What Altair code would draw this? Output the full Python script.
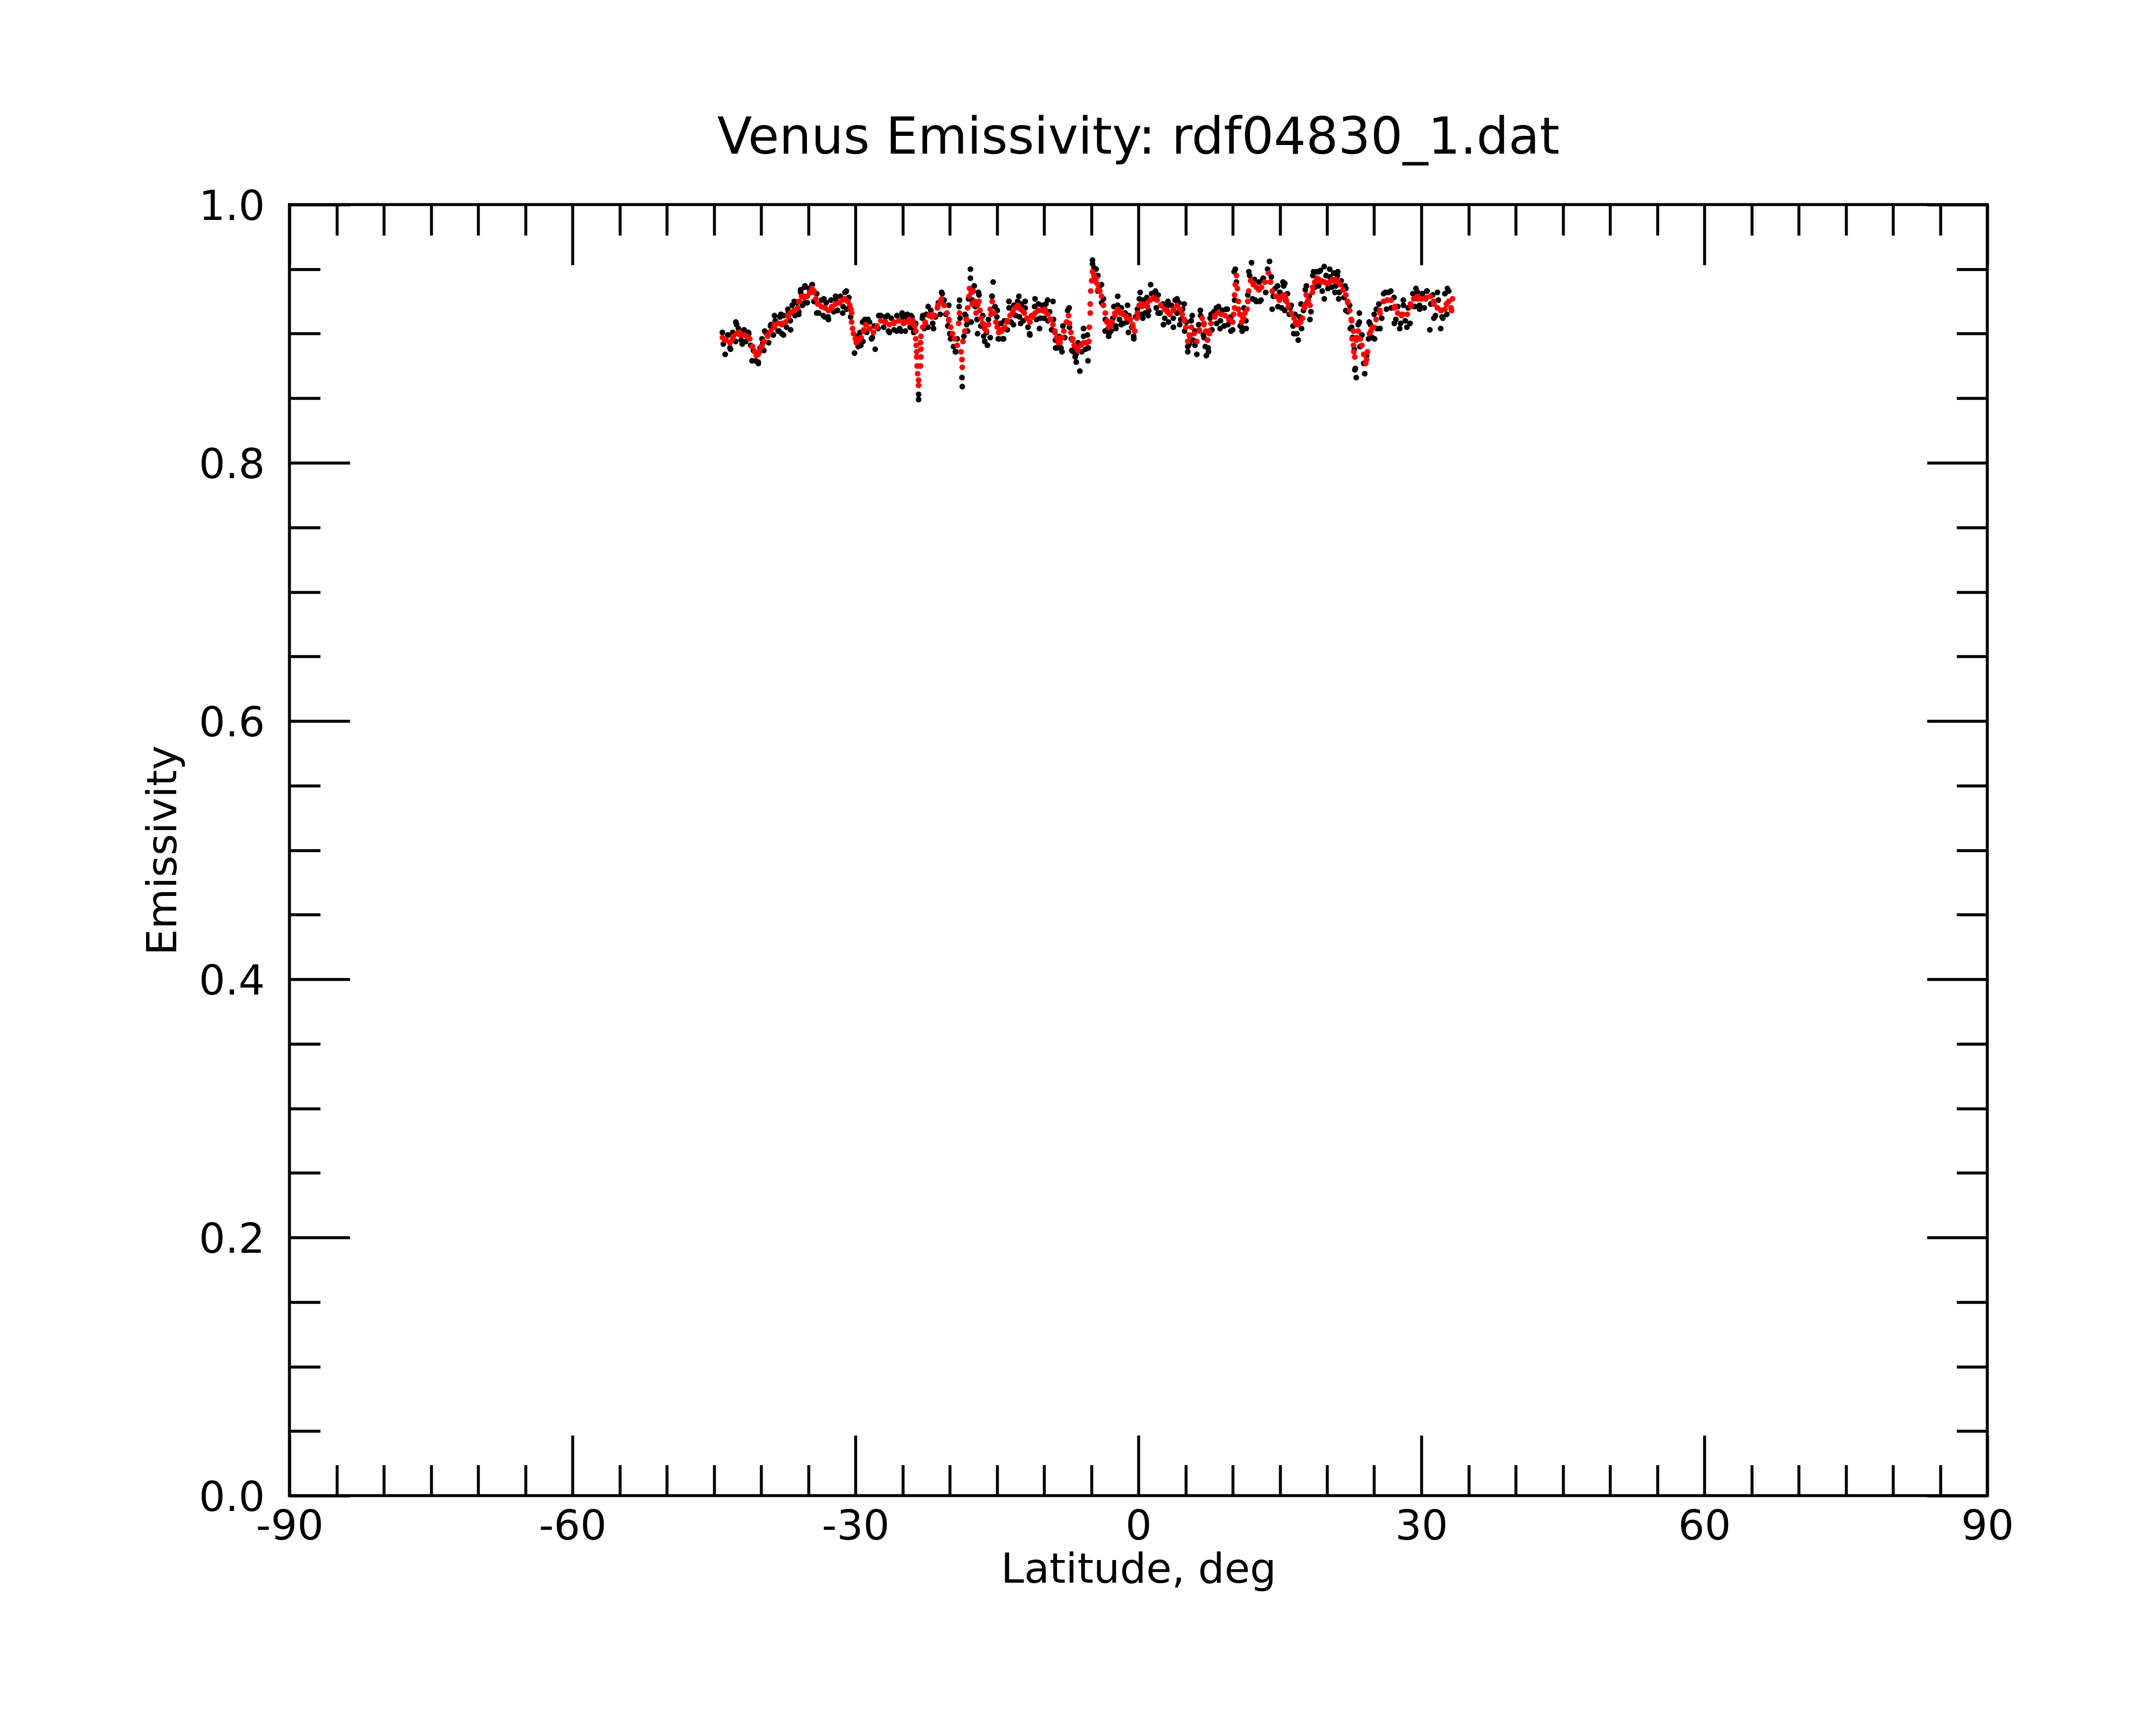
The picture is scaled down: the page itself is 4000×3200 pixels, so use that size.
import altair as alt
import pandas as pd

# ---------------- data ----------------
red_lat_a = [-44.1, -43.7, -43.3, -43.0, -42.6, -42.2, -41.8, -41.5, -41.2, -40.9,
             -40.5, -40.2, -39.9, -39.7, -39.3, -38.96, -38.6, -38.2, -37.8, -37.4,
             -37.1, -36.9, -36.5, -36.1, -35.9, -35.7, -35.4, -35.1, -34.8, -34.6,
             -34.4, -34.2, -33.9, -33.6, -33.2, -32.86, -32.5, -32.1, -31.7, -31.4,
             -31.15, -30.8, -30.6, -30.4, -30.4, -30.3, -30.2, -30.0, -29.9, -29.6,
             -29.4, -29.1, -28.9, -28.5, -28.1, -27.7, -27.3, -26.8, -26.4, -25.9,
             -25.4, -24.9, -24.5, -24.1]
red_em_a = [0.897, 0.895, 0.893, 0.896, 0.900, 0.899, 0.899, 0.898, 0.896, 0.890,
            0.883, 0.886, 0.890, 0.894, 0.898, 0.902, 0.905, 0.908, 0.908, 0.909,
            0.913, 0.916, 0.918, 0.920, 0.925, 0.929, 0.928, 0.929, 0.932, 0.935,
            0.932, 0.927, 0.923, 0.921, 0.920, 0.918, 0.921, 0.923, 0.924, 0.926,
            0.927, 0.925, 0.922, 0.916, 0.909, 0.904, 0.900, 0.896, 0.893, 0.895,
            0.897, 0.903, 0.907, 0.904, 0.901, 0.906, 0.910, 0.909, 0.907, 0.909,
            0.910, 0.908, 0.909, 0.908]

red_lat_b = [-23.9, -23.7, -23.6, -23.6, -23.55, -23.5, -23.5, -23.45, -23.4, -23.3,
             -23.3, -23.1, -23.05, -23.05, -23.1, -23.05, -22.86, -22.6, -22.2, -21.9,
             -21.6, -21.3, -21.0, -20.86, -20.6, -20.3, -20.1, -19.9, -19.7, -19.5,
             -19.2, -19.05, -18.96, -18.8, -18.7, -18.67, -18.6, -18.4, -18.25, -18.1,
             -17.95, -17.9, -17.7, -17.5, -17.35, -17.2, -16.9, -16.8, -16.67, -16.5,
             -16.3, -15.9, -15.7, -15.5, -15.3, -15.1, -14.8, -14.5, -14.2, -13.9,
             -13.6, -13.3, -13.05, -12.8, -12.5, -12.1, -11.8, -11.5, -11.2, -10.95,
             -10.6, -10.2, -9.9, -9.6, -9.3, -9.05, -8.85, -8.67, -8.5, -8.3,
             -8.1, -7.9, -7.6, -7.4, -7.3, -7.15, -7.0, -6.8, -6.6, -6.4,
             -6.1, -5.8, -5.5, -5.24, -5.2, -5.1, -5.1, -5.05, -4.95, -4.86, -4.7]
red_em_b = [0.910, 0.906, 0.902, 0.896, 0.891, 0.886, 0.882, 0.875, 0.869, 0.864,
            0.860, 0.875, 0.882, 0.888, 0.893, 0.898, 0.905, 0.909, 0.914, 0.913,
            0.914, 0.920, 0.925, 0.927, 0.922, 0.916, 0.910, 0.905, 0.900, 0.896,
            0.891, 0.908, 0.916, 0.886, 0.880, 0.874, 0.894, 0.902, 0.911, 0.920,
            0.929, 0.935, 0.932, 0.933, 0.925, 0.916, 0.925, 0.918, 0.912, 0.908,
            0.904, 0.907, 0.919, 0.925, 0.916, 0.909, 0.901, 0.903, 0.905, 0.910,
            0.914, 0.917, 0.920, 0.921, 0.919, 0.916, 0.912, 0.909, 0.913, 0.916,
            0.918, 0.918, 0.917, 0.915, 0.911, 0.907, 0.902, 0.897, 0.895, 0.893,
            0.897, 0.902, 0.909, 0.914, 0.908, 0.901, 0.895, 0.891, 0.889, 0.887,
            0.891, 0.893, 0.893, 0.894, 0.905, 0.916, 0.923, 0.933, 0.941, 0.948, 0.945]

red_lat_c = [-4.5, -4.3, -4.1, -3.9, -3.7, -3.5, -3.3, -3.15, -2.95, -2.8,
             -2.5, -2.2, -1.9, -1.62, -1.25, -0.86, -0.6, -0.38, -0.15, 0.09,
             0.4, 0.66, 0.95, 1.24, 1.6, 2.0, 2.4, 2.76, 3.05, 3.33,
             3.7, 4.1, 4.4, 4.66, 4.85, 5.05, 5.24, 5.4, 5.62, 5.9,
             6.19, 6.45, 6.76, 6.95, 7.14, 7.33, 7.5, 7.7, 8.1, 8.47,
             8.8, 9.2, 9.6, 10.0, 10.2, 10.2, 10.28, 10.4, 10.5, 10.6,
             10.76, 10.95, 11.1, 11.3, 11.6, 11.7, 11.9, 12.2, 12.5, 12.8,
             13.05, 13.4, 13.8, 14.0, 14.2, 14.6, 14.95, 15.2]
red_em_c = [0.940, 0.938, 0.933, 0.929, 0.922, 0.916, 0.910, 0.905, 0.906, 0.909,
            0.914, 0.919, 0.917, 0.915, 0.913, 0.911, 0.907, 0.902, 0.912, 0.922,
            0.921, 0.922, 0.924, 0.926, 0.928, 0.926, 0.922, 0.919, 0.917, 0.915,
            0.918, 0.922, 0.919, 0.915, 0.910, 0.905, 0.894, 0.899, 0.905, 0.900,
            0.894, 0.903, 0.912, 0.907, 0.902, 0.895, 0.902, 0.908, 0.913, 0.916,
            0.915, 0.914, 0.911, 0.909, 0.920, 0.930, 0.938, 0.945, 0.935, 0.925,
            0.915, 0.909, 0.912, 0.916, 0.925, 0.933, 0.941, 0.939, 0.936, 0.934,
            0.936, 0.940, 0.947, 0.940, 0.933, 0.929, 0.926, 0.929]

red_lat_d = [15.5, 15.7, 15.9, 16.2, 16.5, 16.7, 16.9, 17.2, 17.4, 17.6,
             17.8, 18.0, 18.2, 18.45, 18.7, 18.9, 19.1, 19.4, 19.7, 20.0,
             20.3, 20.6, 20.9, 21.15, 21.4, 21.7, 22.0, 22.2, 22.4, 22.6,
             22.8, 22.8, 22.95, 23.1, 23.3, 23.5, 23.7, 23.9, 24.1, 24.3,
             24.5, 24.8, 25.2, 25.6, 26.0, 26.4, 26.8, 27.2, 27.5, 28.0,
             28.5, 28.9, 29.2, 29.6, 30.0, 30.5, 30.95, 31.3, 31.7, 32.1,
             32.5, 32.9, 33.3, 33.2]
red_em_d = [0.930, 0.925, 0.921, 0.916, 0.912, 0.909, 0.907, 0.909, 0.912, 0.920,
            0.930, 0.926, 0.922, 0.932, 0.940, 0.941, 0.942, 0.941, 0.940, 0.939,
            0.940, 0.941, 0.942, 0.940, 0.938, 0.934, 0.930, 0.924, 0.918, 0.910,
            0.902, 0.891, 0.882, 0.895, 0.902, 0.896, 0.891, 0.884, 0.877, 0.886,
            0.900, 0.905, 0.911, 0.918, 0.925, 0.926, 0.926, 0.921, 0.916, 0.915,
            0.915, 0.921, 0.927, 0.927, 0.927, 0.928, 0.929, 0.925, 0.920, 0.918,
            0.919, 0.925, 0.927, 0.918]

# second pass of red readings along the band
red_lat_e = [-43.81, -42.96, -42.29, -41.53, -40.96, -40.67, -40.29, -40.0, -39.34, -38.57,
             -37.81, -37.15, -36.48, -36.0, -35.43, -34.86, -34.38, -34.0, -33.24, -32.48,
             -31.72, -30.96, -30.48, -29.62, -29.15, -28.48, -27.72, -26.86, -25.91, -24.86,
             -24.29, -22.58, -21.91, -21.24, -20.57, -20.1, -19.72, -18.2, -17.62, -17.05,
             -16.48, -16.1, -15.62, -14.96, -14.48, -13.91, -13.34, -12.77, -12.29, -11.81,
             -11.24, -10.58, -9.91, -9.34, -8.86, -8.48, -8.1, -7.62, -6.96, -6.58,
             -6.1, -5.53, -4.67, -4.29]
red_em_e = [0.895, 0.898, 0.901, 0.898, 0.890, 0.886, 0.884, 0.890, 0.899, 0.907,
            0.907, 0.914, 0.918, 0.925, 0.929, 0.932, 0.933, 0.923, 0.920, 0.920,
            0.924, 0.926, 0.919, 0.896, 0.902, 0.904, 0.905, 0.909, 0.908, 0.909,
            0.911, 0.908, 0.915, 0.922, 0.922, 0.911, 0.900, 0.911, 0.923, 0.922,
            0.908, 0.902, 0.915, 0.905, 0.902, 0.909, 0.916, 0.922, 0.918, 0.912,
            0.914, 0.918, 0.919, 0.911, 0.901, 0.893, 0.897, 0.909, 0.896, 0.889,
            0.891, 0.893, 0.944, 0.934]

red_lat_f = [-4.48, -4.1, -3.72, -3.34, -2.96, -2.48, -1.91, -1.24, -0.58, -0.1,
             0.38, 0.95, 1.62, 2.38, 3.05, 3.71, 4.38, 4.86, 5.43, 5.9,
             6.47, 6.95, 7.52, 8.1, 8.85, 9.62, 10.1, 10.57, 11.14, 11.52,
             12.19, 12.76, 13.43, 14.0, 14.57, 15.24, 15.71, 15.62, 16.19, 16.66,
             17.14, 17.62, 18.0, 18.47, 18.95, 19.43, 20.0, 20.57, 21.14, 21.71,
             22.19, 22.57, 22.66, 22.85, 23.14, 23.52, 23.9, 24.19, 24.66, 24.95,
             25.62, 26.38, 27.14, 27.9, 28.85, 29.62, 30.47, 31.33, 32.09, 32.66,
             33.14]
red_em_f = [0.943, 0.933, 0.922, 0.909, 0.907, 0.916, 0.916, 0.912, 0.905, 0.916,
            0.923, 0.921, 0.927, 0.922, 0.918, 0.919, 0.919, 0.911, 0.898, 0.900,
            0.902, 0.908, 0.900, 0.914, 0.915, 0.911, 0.915, 0.919, 0.912, 0.919,
            0.938, 0.934, 0.940, 0.940, 0.929, 0.929, 0.925, 0.927, 0.916, 0.908,
            0.909, 0.922, 0.925, 0.936, 0.943, 0.940, 0.939, 0.942, 0.941, 0.934,
            0.925, 0.911, 0.896, 0.886, 0.897, 0.896, 0.884, 0.880, 0.902, 0.905,
            0.916, 0.926, 0.920, 0.914, 0.923, 0.929, 0.927, 0.923, 0.918, 0.923,
            0.920]

blk_lat_a = [-44.1, -44.0, -43.8, -43.5, -43.3, -43.0, -42.7, -42.6, -42.4, -42.1,
             -41.8, -41.6, -41.3, -41.1, -40.8, -40.6, -40.3, -40.1, -39.9, -39.7,
             -39.5, -39.2, -39.0, -38.7, -38.5, -38.2, -38.0, -37.8, -37.6, -37.3,
             -37.1, -36.9, -36.7, -36.4, -36.2, -36.0, -35.8, -35.6, -35.4, -35.1,
             -34.9, -34.6, -34.4, -34.1, -33.9, -33.6, -33.4, -33.1, -32.9, -32.6,
             -32.3, -32.1, -31.9, -31.6, -31.3, -31.1, -30.9, -30.7, -30.5, -30.1,
             -29.9, -29.7, -29.5, -29.2, -29.0, -28.8, -28.5, -28.2, -28.0, -27.9,
             -27.6, -27.3, -27.0, -26.8, -26.5, -26.2, -25.9, -25.6, -25.3, -25.0,
             -24.7, -24.5, -24.2]
blk_em_a = [0.901, 0.892, 0.884, 0.899, 0.889, 0.901, 0.894, 0.907, 0.904, 0.895,
            0.903, 0.894, 0.900, 0.891, 0.887, 0.879, 0.878, 0.889, 0.896, 0.887,
            0.901, 0.893, 0.906, 0.899, 0.910, 0.902, 0.913, 0.900, 0.914, 0.905,
            0.917, 0.910, 0.922, 0.914, 0.924, 0.917, 0.932, 0.922, 0.936, 0.924,
            0.935, 0.938, 0.925, 0.931, 0.916, 0.926, 0.914, 0.924, 0.913, 0.926,
            0.917, 0.927, 0.918, 0.929, 0.921, 0.932, 0.919, 0.928, 0.913, 0.885,
            0.898, 0.890, 0.901, 0.894, 0.911, 0.901, 0.909, 0.897, 0.906, 0.888,
            0.904, 0.914, 0.905, 0.913, 0.902, 0.912, 0.903, 0.914, 0.904, 0.913,
            0.902, 0.915, 0.905]

blk_lat_b = [-24.0, -23.8, -23.6, -23.3, -23.3, -22.9, -22.7, -22.5, -22.3, -22.0,
             -21.8, -21.5, -21.2, -21.0, -20.8, -20.6, -20.4, -20.2, -20.0, -19.8,
             -19.6, -19.4, -19.2, -19.0, -18.9, -18.7, -18.67, -18.5, -18.4, -18.2,
             -18.0, -17.8, -17.8, -17.6, -17.4, -17.3, -17.1, -16.9, -16.7, -16.5,
             -16.4, -16.1, -15.9, -15.7, -15.5, -15.4, -15.2, -15.0, -14.8, -14.6,
             -14.4, -14.2, -13.9, -13.7, -13.5, -13.2, -13.0, -12.8, -12.6, -12.4,
             -12.2, -12.0, -11.7, -11.5, -11.3, -11.0, -10.8, -10.6, -10.4, -10.2,
             -10.0, -9.8, -9.6, -9.4, -9.2, -9.0, -8.8, -8.6, -8.4, -8.2,
             -8.0, -7.8, -7.5, -7.3, -7.1, -6.9, -6.7, -6.6, -6.4, -6.2,
             -6.0, -5.8, -5.6, -5.4, -5.3]
blk_em_b = [0.913, 0.903, 0.908, 0.853, 0.849, 0.912, 0.904, 0.915, 0.905, 0.918,
            0.908, 0.913, 0.924, 0.915, 0.931, 0.926, 0.915, 0.906, 0.900, 0.897,
            0.890, 0.886, 0.896, 0.921, 0.912, 0.866, 0.859, 0.898, 0.915, 0.907,
            0.927, 0.950, 0.943, 0.926, 0.937, 0.921, 0.911, 0.930, 0.906, 0.914,
            0.898, 0.901, 0.911, 0.897, 0.929, 0.940, 0.921, 0.913, 0.896, 0.908,
            0.896, 0.910, 0.903, 0.920, 0.909, 0.922, 0.914, 0.925, 0.913, 0.923,
            0.910, 0.920, 0.905, 0.899, 0.914, 0.921, 0.911, 0.923, 0.912, 0.922,
            0.912, 0.923, 0.910, 0.917, 0.903, 0.911, 0.895, 0.889, 0.898, 0.889,
            0.906, 0.897, 0.918, 0.905, 0.896, 0.886, 0.882, 0.884, 0.893, 0.871,
            0.886, 0.898, 0.888, 0.899, 0.889]

blk_lat_c = [-4.86, -4.7, -4.5, -4.3, -4.1, -3.9, -3.7, -3.5, -3.3, -3.1,
             -2.9, -2.7, -2.6, -2.4, -2.2, -2.0, -1.8, -1.6, -1.4, -1.2,
             -1.0, -0.7, -0.5, -0.3, -0.1, 0.1, 0.3, 0.5, 0.7, 0.9,
             1.1, 1.3, 1.4, 1.7, 1.9, 2.1, 2.3, 2.6, 2.8, 3.0,
             3.2, 3.5, 3.7, 3.9, 4.1, 4.3, 4.5, 4.7, 4.9, 5.1,
             5.24, 5.4, 5.6, 5.8, 6.0, 6.2, 6.4, 6.6, 6.9, 7.1,
             7.2, 7.4, 7.6, 7.8, 8.0, 8.3, 8.5, 8.7, 8.9, 9.1,
             9.3, 9.5, 9.8, 10.0, 10.15, 10.2, 10.4, 10.6, 10.8, 11.0,
             11.2, 11.4, 11.6, 11.8, 12.0, 12.1, 12.3, 12.5, 12.8, 13.0,
             13.2, 13.5, 13.7, 13.9, 14.1, 14.3, 14.5, 14.8, 15.0, 15.2]
blk_em_c = [0.957, 0.951, 0.945, 0.933, 0.937, 0.924, 0.927, 0.911, 0.903, 0.900,
            0.902, 0.912, 0.921, 0.906, 0.922, 0.911, 0.920, 0.908, 0.916, 0.909,
            0.914, 0.905, 0.898, 0.913, 0.919, 0.927, 0.915, 0.926, 0.916, 0.928,
            0.918, 0.938, 0.931, 0.932, 0.920, 0.930, 0.916, 0.923, 0.912, 0.921,
            0.909, 0.922, 0.912, 0.926, 0.916, 0.924, 0.911, 0.919, 0.902, 0.909,
            0.886, 0.892, 0.910, 0.895, 0.902, 0.884, 0.907, 0.914, 0.899, 0.890,
            0.883, 0.889, 0.912, 0.903, 0.917, 0.908, 0.921, 0.910, 0.918, 0.906,
            0.919, 0.907, 0.913, 0.903, 0.948, 0.926, 0.940, 0.919, 0.906, 0.902,
            0.920, 0.910, 0.930, 0.945, 0.955, 0.927, 0.942, 0.925, 0.940, 0.926,
            0.942, 0.932, 0.950, 0.956, 0.944, 0.929, 0.935, 0.921, 0.932, 0.920]

blk_lat_d = [15.4, 15.6, 15.8, 16.0, 16.2, 16.4, 16.6, 16.8, 16.95, 17.1,
             17.3, 17.5, 17.7, 17.9, 18.1, 18.3, 18.5, 18.7, 18.9, 19.1,
             19.3, 19.5, 19.7, 19.9, 20.1, 20.3, 20.5, 20.7, 20.9, 21.1,
             21.3, 21.5, 21.8, 22.0, 22.2, 22.4, 22.6, 22.7, 22.9, 23.0,
             23.1, 23.3, 23.5, 23.7, 23.9, 24.0, 24.2, 24.4, 24.6, 24.8,
             25.0, 25.3, 25.5, 25.8, 26.0, 26.3, 26.5, 26.8, 27.1, 27.3,
             27.5, 27.8, 28.1, 28.3, 28.6, 28.8, 29.1, 29.3, 29.6, 29.8,
             30.1, 30.3, 30.6, 30.9, 31.0, 31.2, 31.5, 31.8, 32.05, 32.2,
             32.5, 32.7, 32.9]
blk_em_d = [0.937, 0.926, 0.931, 0.915, 0.922, 0.906, 0.915, 0.900, 0.895, 0.913,
            0.904, 0.918, 0.934, 0.924, 0.929, 0.917, 0.945, 0.936, 0.948, 0.937,
            0.949, 0.933, 0.952, 0.945, 0.935, 0.944, 0.936, 0.947, 0.937, 0.945,
            0.932, 0.941, 0.928, 0.935, 0.917, 0.922, 0.905, 0.897, 0.888, 0.873,
            0.866, 0.907, 0.890, 0.899, 0.877, 0.869, 0.883, 0.896, 0.907, 0.897,
            0.915, 0.904, 0.923, 0.912, 0.931, 0.919, 0.932, 0.920, 0.928, 0.911,
            0.921, 0.908, 0.922, 0.910, 0.920, 0.908, 0.931, 0.921, 0.932, 0.922,
            0.931, 0.920, 0.933, 0.903, 0.923, 0.930, 0.914, 0.926, 0.904, 0.913,
            0.931, 0.915, 0.933]

# second pass of black readings around the band
blk_lat_e = [-43.53, -43.24, -42.67, -42.0, -41.34, -40.96, -40.29, -39.81, -39.62, -38.96,
             -38.57, -38.1, -37.62, -37.9, -37.15, -36.86, -36.48, -36.0, -35.81, -35.34,
             -35.34, -34.57, -34.1, -33.34, -33.24, -32.86, -32.1, -31.91, -31.34, -30.96,
             -29.43, -29.24, -28.67, -28.29, -27.53, -26.58, -26.39, -25.62, -25.05, -24.48,
             -25.15, -24.1, -23.81, -22.86, -22.29, -21.72, -20.86, -20.1, -19.91, -19.34,
             -18.96, -18.29, -18.1, -17.72, -16.96, -17.05, -16.29, -16.0, -15.53, -14.96,
             -14.86, -14.29, -13.72, -13.24, -12.67, -12.48, -12.0, -11.53, -10.96, -10.48,
             -9.62, -9.05, -8.77, -8.1, -7.34, -7.05, -6.58, -5.81, -5.34, -4.86,
             -4.48]
blk_em_e = [0.899, 0.888, 0.909, 0.892, 0.901, 0.879, 0.877, 0.893, 0.902, 0.907,
            0.914, 0.902, 0.899, 0.915, 0.919, 0.903, 0.925, 0.915, 0.934, 0.937,
            0.924, 0.938, 0.916, 0.927, 0.913, 0.911, 0.929, 0.918, 0.916, 0.933,
            0.891, 0.909, 0.911, 0.896, 0.914, 0.914, 0.901, 0.902, 0.916, 0.912,
            0.902, 0.914, 0.901, 0.914, 0.921, 0.904, 0.932, 0.922, 0.896, 0.886,
            0.926, 0.914, 0.902, 0.909, 0.932, 0.900, 0.894, 0.891, 0.929, 0.918,
            0.896, 0.896, 0.925, 0.907, 0.929, 0.908, 0.925, 0.900, 0.927, 0.904,
            0.926, 0.925, 0.889, 0.886, 0.920, 0.887, 0.878, 0.904, 0.879, 0.954,
            0.950]

blk_lat_f = [-4.29, -3.91, -3.53, -3.15, -2.38, -2.19, -1.81, -1.15, -1.05, -0.48,
             0.19, 0.47, 1.05, 1.81, 2.09, 2.66, 3.14, 3.71, 4.1, 4.38,
             4.86, 5.24, 5.71, 6.0, 6.57, 6.95, 7.43, 7.71, 8.28, 8.66,
             9.43, 9.81, 10.28, 10.95, 11.43, 11.71, 12.38, 12.86, 13.24, 14.19,
             14.76, 15.33, 15.52, 15.52, 16.09, 16.47, 17.24, 17.81, 18.19, 18.57,
             19.14, 19.71, 20.28, 20.85, 21.14, 21.24, 21.9, 22.0, 22.47, 22.95,
             23.43, 23.43, 24.47, 25.04, 25.23, 25.62, 26.19, 26.76, 27.14, 27.71,
             28.09, 28.47, 29.43, 29.81, 30.57, 31.33, 31.71, 32.28, 32.76]
blk_em_f = [0.945, 0.938, 0.902, 0.898, 0.904, 0.929, 0.907, 0.922, 0.901, 0.896,
            0.932, 0.912, 0.914, 0.933, 0.916, 0.907, 0.925, 0.905, 0.927, 0.907,
            0.923, 0.890, 0.914, 0.891, 0.918, 0.897, 0.886, 0.915, 0.920, 0.904,
            0.919, 0.902, 0.950, 0.905, 0.904, 0.948, 0.926, 0.925, 0.943, 0.919,
            0.937, 0.940, 0.918, 0.939, 0.920, 0.900, 0.923, 0.937, 0.911, 0.948,
            0.948, 0.927, 0.950, 0.932, 0.948, 0.927, 0.937, 0.918, 0.904, 0.872,
            0.916, 0.909, 0.909, 0.896, 0.919, 0.904, 0.932, 0.933, 0.908, 0.904,
            0.926, 0.905, 0.935, 0.919, 0.933, 0.912, 0.932, 0.912, 0.935]

x_labels = [-90, -60, -30, 0, 30, 60, 90]
x_ticks = [-90, -85, -80, -75, -70, -65, -60, -55, -50, -45, -40, -35, -30, -25,
           -20, -15, -10, -5, 0, 5, 10, 15, 20, 25, 30, 35, 40, 45, 50, 55, 60,
           65, 70, 75, 80, 85, 90]
y_labels = [0.0, 0.2, 0.4, 0.6, 0.8, 1.0]
y_ticks = [0.0, 0.05, 0.1, 0.15, 0.2, 0.25, 0.3, 0.35, 0.4, 0.45, 0.5, 0.55,
           0.6, 0.65, 0.7, 0.75, 0.8, 0.85, 0.9, 0.95, 1.0]

title_text = "Venus Emissivity: rdf04830_1.dat"
x_title = "Latitude, deg"
y_title = "Emissivity"

# ---------------- chart ----------------
black = pd.DataFrame({
    "lat": blk_lat_a + blk_lat_b + blk_lat_c + blk_lat_d + blk_lat_e + blk_lat_f,
    "em": blk_em_a + blk_em_b + blk_em_c + blk_em_d + blk_em_e + blk_em_f})
red = pd.DataFrame({
    "lat": red_lat_a + red_lat_b + red_lat_c + red_lat_d + red_lat_e + red_lat_f,
    "em": red_em_a + red_em_b + red_em_c + red_em_d + red_em_e + red_em_f})

W, H = 3150, 2395
FONT = "DejaVu Sans"
FS = 77
MAJ, MIN = 112, 57
TW = 5.5
DOT = 115

xs = alt.Scale(domain=[-90, 90], nice=False, zero=False)
ys = alt.Scale(domain=[0, 1], nice=False, zero=False)

x_tick_size = {"condition": {"test": "datum.value % 30 === 0", "value": MAJ}, "value": MIN}
y_tick_size = {"condition": {"test": "round(datum.value * 100) % 20 === 0", "value": MAJ}, "value": MIN}

# axes carrying labels and titles
x_axis_main = alt.Axis(orient="bottom", values=x_labels, labelExpr="'' + datum.value",
                       labelFont=FONT, labelFontSize=FS, labelColor="black",
                       labelPadding=20, labelFlush=False, labelOverlap=False,
                       ticks=False, tickSize=0, domain=False, grid=False,
                       title=x_title, titleFont=FONT, titleFontSize=FS,
                       titleFontWeight="normal", titleColor="black",
                       titleX=W / 2, titleY=161, titleAlign="center",
                       titleBaseline="alphabetic")
y_axis_main = alt.Axis(orient="left", values=y_labels, format=".1f",
                       labelFont=FONT, labelFontSize=FS, labelColor="black",
                       labelPadding=46, labelFlush=False, labelOverlap=False,
                       labelOffset=5,
                       ticks=False, tickSize=0, domain=False, grid=False,
                       title=y_title, titleFont=FONT, titleFontSize=FS,
                       titleFontWeight="normal", titleColor="black",
                       titleAngle=270, titleX=-211, titleY=H / 2,
                       titleAlign="center", titleBaseline="alphabetic")

# inside ticks from bottom edge (x) and left edge (y)
x_axis_b = alt.Axis(orient="top", offset=-H, values=x_ticks, labels=False,
                    domain=False, grid=False, ticks=True, tickSize=x_tick_size,
                    tickWidth=TW, tickColor="black", title=None)
y_axis_b = alt.Axis(orient="right", offset=-W, values=y_ticks, labels=False,
                    domain=False, grid=False, ticks=True, tickSize=y_tick_size,
                    tickWidth=TW, tickColor="black", title=None)

# inside ticks from top edge (x) and right edge (y)
x_axis_c = alt.Axis(orient="bottom", offset=-H, values=x_ticks, labels=False,
                    domain=False, grid=False, ticks=True, tickSize=x_tick_size,
                    tickWidth=TW, tickColor="black", title=None)
y_axis_c = alt.Axis(orient="left", offset=-W, values=y_ticks, labels=False,
                    domain=False, grid=False, ticks=True, tickSize=y_tick_size,
                    tickWidth=TW, tickColor="black", title=None)

black_layer = alt.Chart(black).mark_circle(size=DOT, color="black", opacity=1).encode(
    x=alt.X("lat:Q", scale=xs, axis=x_axis_main),
    y=alt.Y("em:Q", scale=ys, axis=y_axis_main),
)
red_layer = alt.Chart(red).mark_circle(size=DOT, color="#ff0000", opacity=1).encode(
    x=alt.X("lat:Q", scale=xs, axis=x_axis_b),
    y=alt.Y("em:Q", scale=ys, axis=y_axis_b),
)
ghost_layer = alt.Chart(red).mark_circle(size=DOT, color="#ff0000", opacity=0).encode(
    x=alt.X("lat:Q", scale=xs, axis=x_axis_c),
    y=alt.Y("em:Q", scale=ys, axis=y_axis_c),
)

chart = alt.layer(black_layer, red_layer, ghost_layer).resolve_axis(
    x="independent", y="independent"
).properties(
    width=W,
    height=H,
    title=alt.TitleParams(text=title_text, font=FONT, fontSize=94,
                          fontWeight="normal", color="black", anchor="middle",
                          frame="group", baseline="alphabetic", offset=95, dy=128),
    autosize=alt.AutoSizeParams(type="none"),
    padding={"left": 529, "top": 371.5, "right": 300, "bottom": 400},
    background="white",
).configure_view(stroke="black", strokeWidth=5.5)

chart.save("out.html", embed_options={"renderer": "svg", "actions": False})
